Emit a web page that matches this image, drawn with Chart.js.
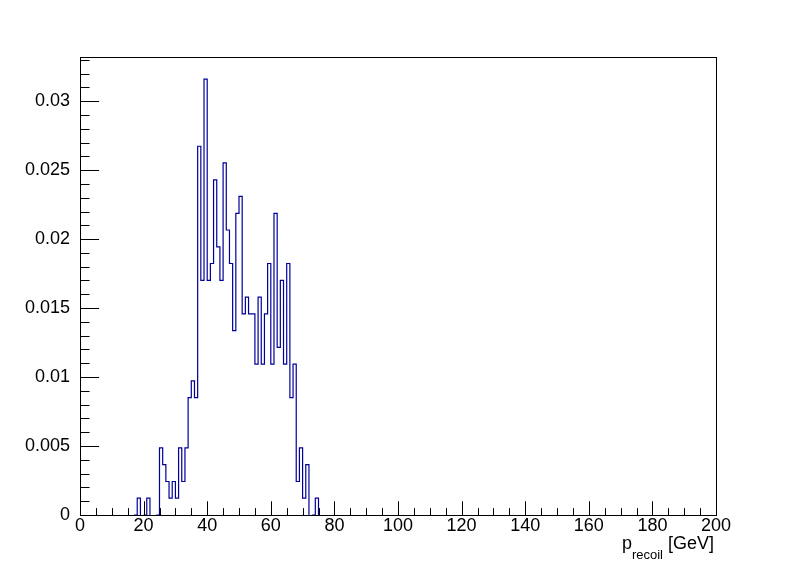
<!DOCTYPE html>
<html>
<head>
<meta charset="utf-8">
<script src="https://cdn.jsdelivr.net/npm/chart.js@4.4.0/dist/chart.umd.min.js"></script>
<style>
  body { margin: 0; background: #fff; }
  canvas { display: block; }
</style>
</head>
<body>
<canvas id="chart" width="796" height="572"></canvas>
<script>
// lower edge of each filled bin (1 GeV bins from 0 to 200)
const binLow = [18, 21, 25, 26, 27, 28, 29, 30, 31, 32, 33, 34, 35, 36, 37, 38, 39, 40,
  41, 42, 43, 44, 45, 46, 47, 48, 49, 50, 51, 52, 53, 54, 55, 56, 57, 58, 59, 60,
  61, 62, 63, 64, 65, 66, 67, 68, 69, 70, 71, 74]
// bin content
const binContent = [0.00122, 0.00122, 0.00486, 0.00365, 0.00243, 0.00122, 0.00243, 0.00122,
  0.00486, 0.00243, 0.00486, 0.00851, 0.00972, 0.00851, 0.02673, 0.01701, 0.03159, 0.01701,
  0.01823, 0.0243, 0.01944, 0.01701, 0.02552, 0.02066, 0.01823, 0.01337, 0.02187, 0.02309,
  0.01458, 0.0158, 0.01458, 0.01458, 0.01094, 0.0158, 0.01094, 0.01458, 0.01823, 0.01094,
  0.02187, 0.01215, 0.01701, 0.01094, 0.01823, 0.00851, 0.01094, 0.00243, 0.00486, 0.00122,
  0.00365, 0.00122]

const xMin = 0
const xMax = 200
const nBins = 200
const yMax = 0.0332

// tick labels
const xTicks = [0, 20, 40, 60, 80, 100, 120, 140, 160, 180, 200]
const yTicks = [0, 0.005, 0.01, 0.015, 0.02, 0.025, 0.03]
const yTickLabels = ['0', '0.005', '0.01', '0.015', '0.02', '0.025', '0.03']

const FONT = 'Liberation Sans, Arial, Helvetica, sans-serif'
const LINE = '#000099'

// build step points: one point per bin left edge, then close at the upper edge
let counts = new Array(nBins).fill(0)
for (let i = 0; i < binLow.length; i++) {
  counts[binLow[i]] = binContent[i]
}
let points = []
let w = (xMax - xMin) / nBins
for (let i = 0; i < nBins; i++) {
  points.push({ x: xMin + i * w, y: counts[i] })
}
points.push({ x: xMax, y: 0 })

// frame, inward ticks and the axis title in ROOT style
const rootFrame = {
  id: 'rootFrame',
  afterDatasetsDraw(chart) {
    const ctx = chart.ctx
    const a = chart.chartArea
    const xs = chart.scales.x
    const ys = chart.scales.y
    ctx.save()
    ctx.strokeStyle = '#000'
    ctx.lineWidth = 1
    ctx.strokeRect(Math.round(a.left) + 0.5, Math.round(a.top) + 0.5,
      Math.round(a.right - a.left), Math.round(a.bottom - a.top))

    ctx.beginPath()
    // x ticks: long every 20, short every 5
    let xLong = 0.03 * (a.bottom - a.top)
    for (let v = xMin; v <= xMax; v += 5) {
      let px = Math.round(xs.getPixelForValue(v)) + 0.5
      let len = (v % 20 === 0) ? xLong : xLong / 2
      ctx.moveTo(px, a.bottom)
      ctx.lineTo(px, a.bottom - len)
    }
    // y ticks: long every 0.005, short every 0.001
    let yLong = 0.03 * (a.right - a.left)
    for (let k = 0; k * 0.001 <= yMax; k++) {
      let py = Math.round(ys.getPixelForValue(k * 0.001)) + 0.5
      let len = (k % 5 === 0) ? yLong : yLong / 2
      ctx.moveTo(a.left, py)
      ctx.lineTo(a.left + len, py)
    }
    ctx.stroke()

    // axis title p_recoil [GeV], right aligned to the frame
    ctx.fillStyle = '#000'
    ctx.textBaseline = 'alphabetic'
    ctx.font = '18px ' + FONT
    let tail = ' [GeV]'
    let tailW = ctx.measureText(tail).width
    let pW = ctx.measureText('p').width
    ctx.font = '13px ' + FONT
    let subW = ctx.measureText('recoil').width
    let x0 = a.right - 2 - tailW - subW - pW
    ctx.font = '18px ' + FONT
    ctx.fillText('p', x0, 549)
    ctx.fillText(tail, x0 + pW + subW, 549)
    ctx.font = '13px ' + FONT
    ctx.fillText('recoil', x0 + pW, 559)
    ctx.restore()
  }
}

let elCanvas = document.getElementById('chart')
let ctx = elCanvas.getContext('2d')

new Chart(ctx, {
  type: 'line',
  data: {
    datasets: [{
      data: points,
      stepped: true,
      borderColor: LINE,
      borderWidth: 1.2,
      pointRadius: 0,
      fill: false,
      // empty bins lie on the axis, leave them to the black frame
      segment: {
        borderColor: (c) => (c.p0.parsed.y === 0 && c.p1.parsed.y === 0) ? 'rgba(0,0,0,0)' : LINE
      }
    }]
  },
  options: {
    responsive: false,
    animation: false,
    devicePixelRatio: 1,
    layout: { padding: { left: 0, top: 57, right: 80, bottom: 0 } },
    plugins: { legend: { display: false }, tooltip: { enabled: false } },
    scales: {
      x: {
        type: 'linear',
        min: xMin,
        max: xMax,
        grid: { display: false },
        border: { display: false },
        afterBuildTicks: (scale) => { scale.ticks = xTicks.map(v => ({ value: v })) },
        afterFit: (scale) => { scale.height = 57 },
        ticks: {
          color: '#000',
          font: { family: FONT, size: 18 },
          padding: -8,
          maxRotation: 0,
          autoSkip: false
        }
      },
      y: {
        type: 'linear',
        min: 0,
        max: yMax,
        grid: { display: false },
        border: { display: false },
        afterBuildTicks: (scale) => { scale.ticks = yTicks.map(v => ({ value: v })) },
        afterFit: (scale) => { scale.width = 80 },
        ticks: {
          color: '#000',
          font: { family: FONT, size: 18 },
          padding: 2,
          autoSkip: false,
          callback: (v) => {
            let i = yTicks.indexOf(v)
            return i >= 0 ? yTickLabels[i] : ''
          }
        }
      }
    }
  },
  plugins: [rootFrame]
})
</script>
</body>
</html>
